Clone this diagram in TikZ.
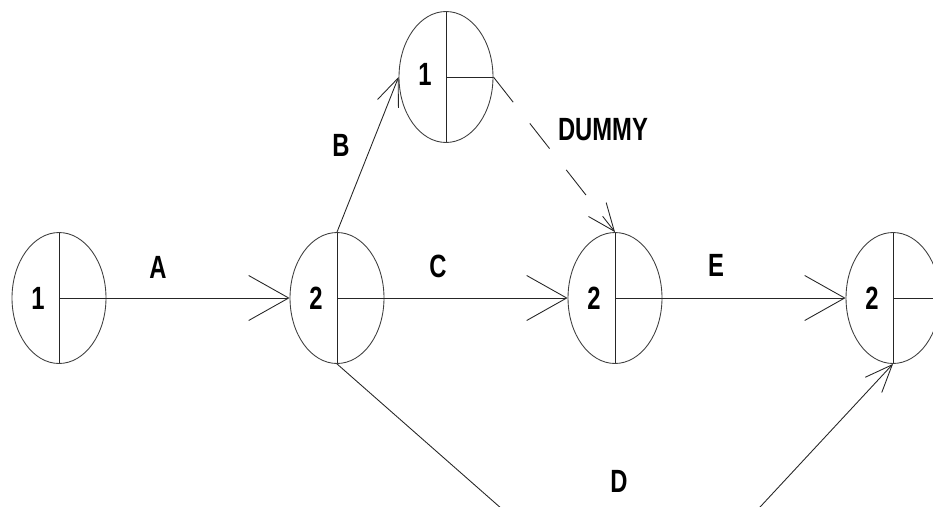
\documentclass[tikz,border=0pt]{standalone}
\usepackage{fontspec}
\usepackage{graphicx}
\setsansfont{Liberation Sans}
\usetikzlibrary{shapes.geometric,arrows.meta}
\newcommand{\narrowtxt}[1]{\scalebox{0.74}[1]{#1}}
\tikzset{
  event/.style={ellipse,draw=black!75,line width=0.5pt,minimum width=1.88cm,minimum height=2.62cm,inner sep=0pt,
    path picture={\draw[black!85] (path picture bounding box.north) -- (path picture bounding box.south);
                  \draw[black!85] (path picture bounding box.center) -- (path picture bounding box.east);}},
  lbl/.style={font=\sffamily\bfseries\fontsize{18.3}{20}\selectfont,inner sep=0pt},
  act/.style={black!85,line width=0.5pt,-{Straight Barb[length=0.8cm,width=0.9cm]}},
  actsmall/.style={black!85,line width=0.5pt,-{Straight Barb[length=0.55cm,width=0.45cm]}}
}
\begin{document}
\begin{tikzpicture}[x=0.02cm,y=-0.02cm]
  \useasboundingbox (0,0) rectangle (933,507);
  \clip (0,0) rectangle (933,507);
  % events
  \node[event] (e1) at (59,298) {};
  \node[event] (e2) at (337,298) {};
  \node[event] (e5) at (446,77) {};
  \node[event] (e3) at (615,298) {};
  \node[event] (e4) at (893,298) {};
  \node[lbl] (n1) at ([xshift=-0.42cm]e1.center) {\narrowtxt{1}};
  \node[lbl] (n2) at ([xshift=-0.42cm]e2.center) {\narrowtxt{2}};
  \node[lbl] (n5) at ([xshift=-0.42cm,yshift=0.06cm]e5.center) {\narrowtxt{1}};
  \node[lbl] (n3) at ([xshift=-0.42cm]e3.center) {\narrowtxt{2}};
  \node[lbl] (n4) at ([xshift=-0.42cm]e4.center) {\narrowtxt{2}};
  % activities
  \draw[act] (e1.center) -- (e2.west);
  \draw[act] (e2.center) -- (e3.west);
  \draw[act] (e3.center) -- (e4.west);
  \draw[actsmall] (e2.north) -- (e5.west);
  \draw[actsmall,dash pattern=on 0.64cm off 0.54cm] (e5.east) -- (e3.north);
  \coordinate (low) at (643,633);
  \draw[actsmall] (e2.south) -- (low) -- (e4.south);
  % labels
  \node[lbl] (la) at (158,267) {\narrowtxt{A}};
  \node[lbl] (lb) at (341,145) {\narrowtxt{B}};
  \node[lbl] (lc) at (438,266) {\narrowtxt{C}};
  \node[lbl] (le) at (716,265) {\narrowtxt{E}};
  \node[lbl] (ldum) at (603,130) {\narrowtxt{DUMMY}};
  \node[lbl] (ld) at (619,481) {\narrowtxt{D}};
\end{tikzpicture}
\end{document}
